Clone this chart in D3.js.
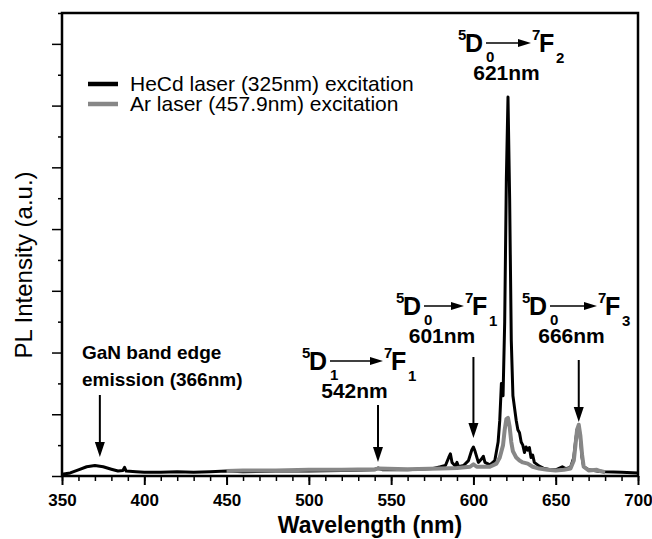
<!DOCTYPE html>
<html>
<head>
<meta charset="utf-8">
<script src="https://cdn.jsdelivr.net/npm/d3@7"></script>
<style>
    body { margin: 0; background: #fff; }
    svg { display: block; font-family: "Liberation Sans", Arial, sans-serif; }
</style>
</head>
<body>
<svg id="chart" width="652" height="539"></svg>
<script>
// HeCd laser (325nm) excitation spectrum
const hecdWavelength = [350, 355, 360, 365, 370, 375, 380, 384, 387, 388, 389, 395, 400, 410, 420, 430, 440, 450, 460, 480, 500, 520, 540, 542, 545, 560, 575, 580, 583, 585, 586, 587, 589, 590, 591, 594, 597, 599, 600, 601, 603, 605, 606, 607, 610, 613, 615, 616, 617, 618, 619, 620, 621, 622, 623, 624, 625, 626, 627, 628, 629, 630, 631, 632, 633, 634, 635, 636, 637, 640, 643, 647, 650, 654, 656, 659, 661, 662, 663, 664, 665, 666, 667, 670, 675, 680, 690, 700];
const hecdIntensity = [0.03, 0.05, 0.10, 0.15, 0.17, 0.15, 0.11, 0.08, 0.09, 0.14, 0.08, 0.07, 0.06, 0.06, 0.07, 0.06, 0.07, 0.08, 0.07, 0.08, 0.08, 0.09, 0.10, 0.13, 0.10, 0.10, 0.12, 0.15, 0.17, 0.30, 0.36, 0.22, 0.16, 0.22, 0.15, 0.17, 0.25, 0.42, 0.47, 0.40, 0.22, 0.28, 0.32, 0.22, 0.18, 0.25, 0.55, 0.90, 1.50, 1.30, 2.50, 4.80, 6.14, 4.50, 2.20, 1.30, 1.10, 0.90, 0.75, 0.70, 0.55, 0.50, 0.38, 0.47, 0.42, 0.46, 0.30, 0.34, 0.22, 0.16, 0.12, 0.10, 0.10, 0.15, 0.12, 0.14, 0.30, 0.55, 0.75, 0.78, 0.60, 0.30, 0.15, 0.10, 0.08, 0.07, 0.06, 0.05];

// Ar laser (457.9nm) excitation spectrum
const arWavelength = [450, 460, 480, 500, 520, 540, 542, 560, 580, 590, 598, 600, 602, 610, 614, 616, 618, 619, 620, 621, 622, 623, 624, 626, 628, 630, 633, 636, 640, 645, 650, 655, 659, 661, 662, 663, 664, 665, 666, 667, 670, 675, 677, 680];
const arIntensity = [0.08, 0.09, 0.09, 0.10, 0.10, 0.11, 0.12, 0.11, 0.12, 0.13, 0.15, 0.19, 0.15, 0.15, 0.20, 0.30, 0.50, 0.75, 0.92, 0.94, 0.80, 0.55, 0.40, 0.30, 0.25, 0.22, 0.20, 0.15, 0.12, 0.10, 0.09, 0.10, 0.12, 0.25, 0.50, 0.75, 0.83, 0.65, 0.35, 0.15, 0.09, 0.10, 0.08, 0.06];

// Axis ticks
const xTicks = [350, 400, 450, 500, 550, 600, 650, 700];
const xMinorTicks = d3.range(350, 701, 10);
const yTicks = [0, 1, 2, 3, 4, 5, 6, 7];
const yMinorTicks = d3.range(0.5, 7.6, 1);

// Legend entries
const legendLabels = ['HeCd laser (325nm) excitation', 'Ar laser (457.9nm) excitation'];
const seriesColors = ['#000000', '#878787'];

// Transition annotations
const transitions = [
    { upper: '5', lowerU: '1', lowerF: '1', nm: '542nm', x0: 302, base: 370, len: 53 },
    { upper: '5', lowerU: '0', lowerF: '1', nm: '601nm', x0: 396, base: 315, len: 40 },
    { upper: '5', lowerU: '0', lowerF: '2', nm: '621nm', x0: 458, base: 52, len: 45 },
    { upper: '5', lowerU: '0', lowerF: '3', nm: '666nm', x0: 522, base: 315, len: 47 }
];

// Vertical arrows pointing to peaks
const peakArrows = [
    { nm: 373, top: 395, tip: 457 },
    { nm: 542, top: 405, tip: 462 },
    { nm: 600, top: 357, tip: 438 },
    { nm: 664, top: 360, tip: 422 }
];

const margin = { top: 13, right: 14, bottom: 63, left: 62 };
const width = 652, height = 539;

const svg = d3.select('#chart');

const xScale = d3.scaleLinear()
    .domain([350, 700])
    .range([margin.left, width - margin.right]);

const yScale = d3.scaleLinear()
    .domain([0, 7.5])
    .range([height - margin.bottom, margin.top]);

// Spectra lines
const line = d3.line()
    .x(d => xScale(d[0]))
    .y(d => yScale(d[1]));

const hecd = hecdWavelength.map((w, i) => [w, hecdIntensity[i]]);
const ar = arWavelength.map((w, i) => [w, arIntensity[i]]);

svg.append('path')
    .datum(hecd)
    .attr('d', line)
    .attr('fill', 'none')
    .attr('stroke', seriesColors[0])
    .attr('stroke-width', 3)
    .attr('stroke-linejoin', 'round');

svg.append('path')
    .datum(ar)
    .attr('d', line)
    .attr('fill', 'none')
    .attr('stroke', seriesColors[1])
    .attr('stroke-width', 4)
    .attr('stroke-linejoin', 'round');

// Axes
const xAxisY = yScale(0);

svg.append('g')
    .attr('transform', `translate(0, ${xAxisY})`)
    .call(d3.axisBottom(xScale).tickValues(xMinorTicks).tickSize(5).tickFormat(''))
    .call(g => g.select('.domain').remove())
    .call(g => g.selectAll('line').attr('stroke-width', 1.5));

svg.append('g')
    .attr('transform', `translate(0, ${xAxisY})`)
    .call(d3.axisBottom(xScale).tickValues(xTicks).tickSize(9).tickPadding(9))
    .call(g => g.select('.domain').remove())
    .call(g => g.selectAll('line').attr('stroke-width', 2))
    .call(g => g.selectAll('text')
        .attr('fill', '#000')
        .style('font-size', '17px')
        .style('font-weight', 'bold')
        .style('font-family', '"Liberation Sans", Arial, sans-serif'));

svg.append('g')
    .attr('transform', `translate(${margin.left}, 0)`)
    .call(d3.axisLeft(yScale).tickValues(yMinorTicks).tickSize(4).tickFormat(''))
    .call(g => g.select('.domain').remove())
    .call(g => g.selectAll('line').attr('stroke-width', 1.5));

svg.append('g')
    .attr('transform', `translate(${margin.left}, 0)`)
    .call(d3.axisLeft(yScale).tickValues(yTicks).tickSize(10).tickFormat(''))
    .call(g => g.select('.domain').remove())
    .call(g => g.selectAll('line').attr('stroke-width', 1.5));

// Frame
svg.append('rect')
    .attr('x', margin.left)
    .attr('y', margin.top)
    .attr('width', width - margin.left - margin.right)
    .attr('height', height - margin.top - margin.bottom)
    .attr('fill', 'none')
    .attr('stroke', '#000')
    .attr('stroke-width', 2.5);

// Axis titles
svg.append('text')
    .attr('x', 370)
    .attr('y', 533)
    .attr('text-anchor', 'middle')
    .style('font-size', '23px')
    .style('font-weight', 'bold')
    .text('Wavelength (nm)');

svg.append('text')
    .attr('transform', 'translate(32, 265) rotate(-90)')
    .attr('text-anchor', 'middle')
    .style('font-size', '24px')
    .text('PL Intensity (a.u.)');

// Legend
legendLabels.forEach((label, i) => {
    const y = 84 + i * 20;
    svg.append('line')
        .attr('x1', 88).attr('x2', 118)
        .attr('y1', y).attr('y2', y)
        .attr('stroke', seriesColors[i])
        .attr('stroke-width', 4.5);
    svg.append('text')
        .attr('x', 130)
        .attr('y', y + 7)
        .style('font-size', '21px')
        .text(label);
});

// GaN band edge label
svg.append('text')
    .attr('x', 82).attr('y', 359)
    .style('font-size', '19px').style('font-weight', 'bold')
    .text('GaN band edge');
svg.append('text')
    .attr('x', 82).attr('y', 386)
    .style('font-size', '19px').style('font-weight', 'bold')
    .text('emission (366nm)');

// Transition labels
function addText(x, y, size, str, anchor) {
    return svg.append('text')
        .attr('x', x).attr('y', y)
        .attr('text-anchor', anchor || 'start')
        .style('font-size', size + 'px')
        .style('font-weight', 'bold')
        .text(str);
}

transitions.forEach(t => {
    const x0 = t.x0, b = t.base;
    addText(x0, b - 12, 15, t.upper);
    addText(x0 + 7, b, 25, 'D');
    addText(x0 + 28, b + 10, 15, t.lowerU);
    const ax1 = x0 + 28, ax2 = x0 + 28 + t.len;
    svg.append('line')
        .attr('x1', ax1).attr('x2', ax2 - 10)
        .attr('y1', b - 9).attr('y2', b - 9)
        .attr('stroke', '#000').attr('stroke-width', 1.5);
    svg.append('path')
        .attr('d', `M${ax2},${b - 9} L${ax2 - 13},${b - 13} L${ax2 - 13},${b - 5} Z`)
        .attr('fill', '#000');
    addText(ax2 + 1, b - 12, 15, '7');
    addText(ax2 + 8, b, 25, 'F');
    addText(ax2 + 25, b + 11, 15, t.lowerF);
    addText((x0 + ax2 + 24) / 2, b + 28, 21, t.nm, 'middle');
});

// Peak arrows
peakArrows.forEach(a => {
    const x = xScale(a.nm);
    svg.append('line')
        .attr('x1', x).attr('x2', x)
        .attr('y1', a.top).attr('y2', a.tip - 12)
        .attr('stroke', '#000').attr('stroke-width', 2);
    svg.append('path')
        .attr('d', `M${x},${a.tip} L${x - 5},${a.tip - 15} L${x + 5},${a.tip - 15} Z`)
        .attr('fill', '#000');
});
</script>
</body>
</html>
